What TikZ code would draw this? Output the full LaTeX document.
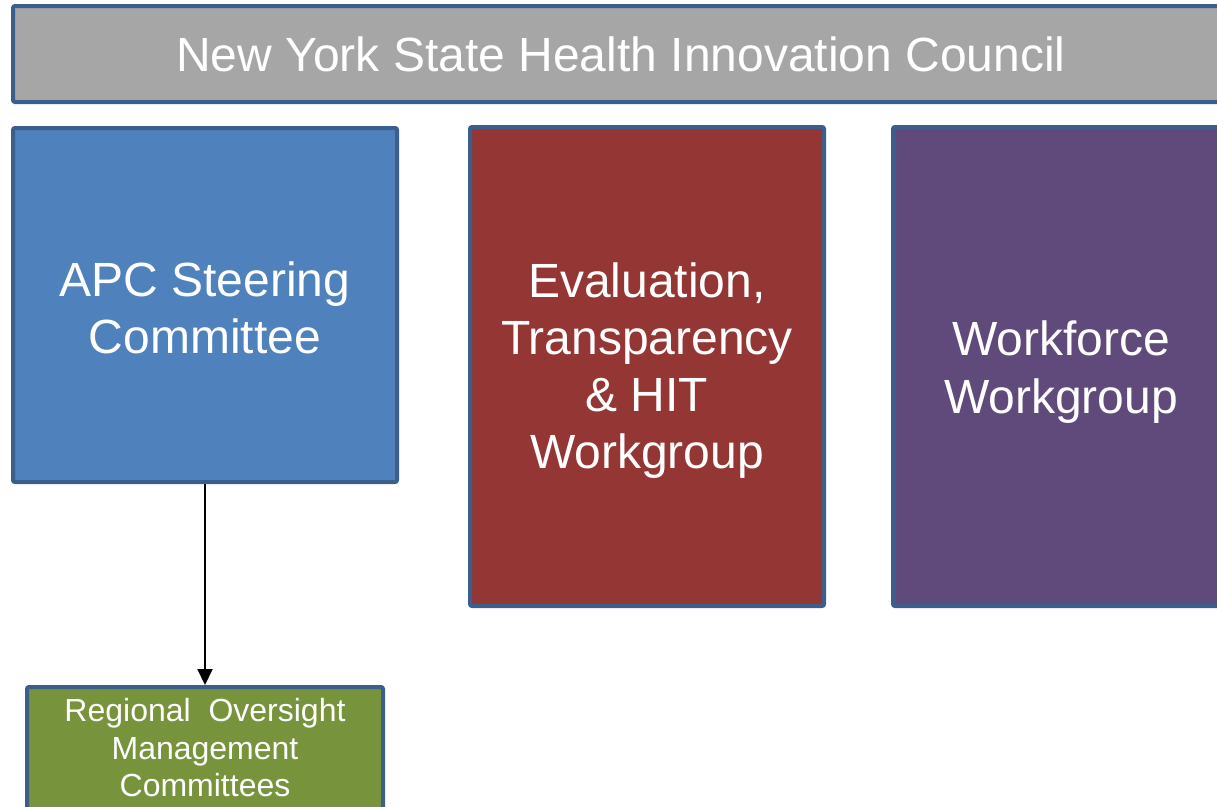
\documentclass[tikz,border=0pt]{standalone}
\usepackage{fontspec}
\setmainfont{Liberation Sans}
\usetikzlibrary{arrows.meta}
\definecolor{bordc}{HTML}{3B5E8C}
\definecolor{greyf}{HTML}{A6A6A6}
\definecolor{bluef}{HTML}{4F81BD}
\definecolor{redf}{HTML}{943634}
\definecolor{purpf}{HTML}{604A7B}
\definecolor{greenf}{HTML}{77933C}
\newcommand{\topstrut}[1]{\rule{0pt}{#1}}
\tikzset{
  box/.style={draw=bordc, line width=4pt, rounded corners=2pt, text=white, align=center, inner sep=0pt, anchor=north west},
  bigtext/.style={font=\fontsize{48}{57.3}\selectfont},
}
\begin{document}
\begin{tikzpicture}[x=1pt,y=-1pt]
\useasboundingbox (0,0) rectangle (1217,806);
\clip (0,0) rectangle (1217,806);
\node[box, fill=greyf, minimum width=1216pt, minimum height=96pt, bigtext] (council) at (11,4) {New York State Health Innovation Council};
\node[box, fill=bluef, minimum width=384pt, minimum height=354pt, bigtext] (apc) at (11,126) {\topstrut{41pt}APC Steering\\Committee};
\node[box, fill=redf, minimum width=354pt, minimum height=479pt, bigtext] (eval) at (468,125) {\topstrut{43pt}Evaluation,\\Transparency\\\& HIT\\Workgroup};
\node[box, fill=purpf, minimum width=336pt, minimum height=479pt, bigtext] (work) at (891,125) {\topstrut{46pt}Workforce\\Workgroup};
\node[box, fill=greenf, minimum width=356pt, minimum height=122pt, font=\fontsize{32}{37.5}\selectfont, anchor=north] (rom) at (205,685) {Regional\ \ Oversight\\Management\\Committees};
\draw[line width=2pt, -{Triangle[length=16pt,width=15pt]}] (apc.south) -- (rom.north);
\end{tikzpicture}
\end{document}
